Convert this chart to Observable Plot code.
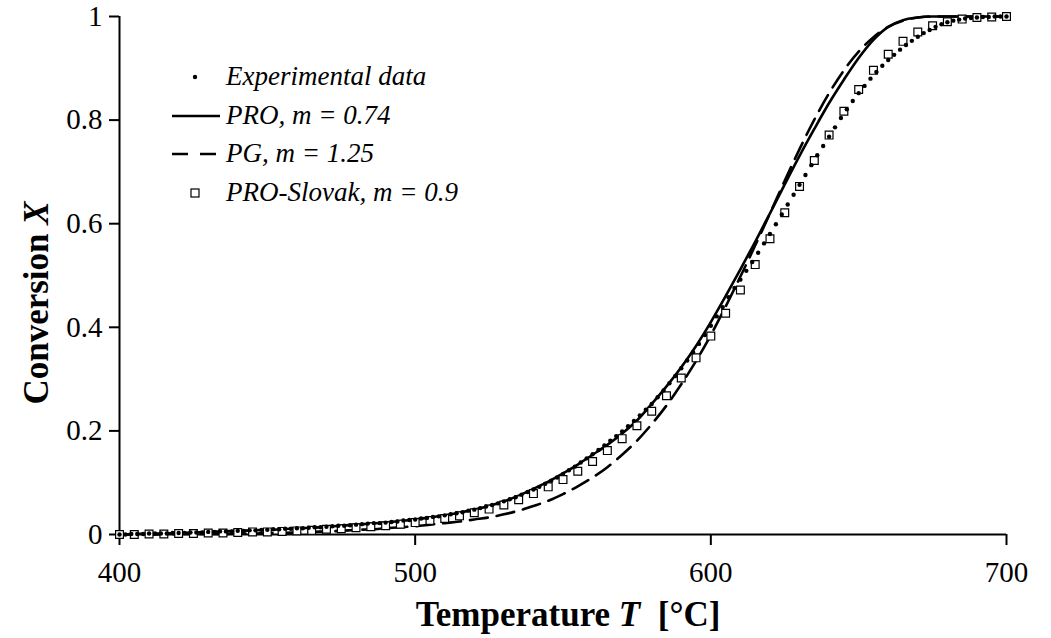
<!DOCTYPE html>
<html>
<head>
<meta charset="utf-8">
<script src="https://cdn.jsdelivr.net/npm/d3@7"></script>
<script src="https://cdn.jsdelivr.net/npm/@observablehq/plot@0.6"></script>
<style>
  html, body { margin: 0; padding: 0; background: #fff; }
  #wrap { position: relative; width: 1051px; height: 638px; }
  #overlay { position: absolute; left: 0; top: 0; pointer-events: none; }
</style>
</head>
<body>
<div id="wrap"></div>
<script>
// ---- Data ----
// Experimental data: conversion X every 2 °C from 400 °C
const expStart = 400, expStep = 2;
const expX = [
  0.000,0.000,0.001,0.001,0.001,0.002,0.002,0.002,0.002,0.003,
  0.003,0.003,0.004,0.004,0.004,0.005,0.005,0.006,0.006,0.006,
  0.007,0.007,0.008,0.008,0.009,0.009,0.010,0.010,0.011,0.011,
  0.012,0.012,0.013,0.014,0.014,0.015,0.016,0.017,0.017,0.018,
  0.019,0.020,0.021,0.022,0.022,0.023,0.024,0.025,0.027,0.028,
  0.029,0.031,0.032,0.034,0.035,0.037,0.039,0.041,0.043,0.046,
  0.048,0.051,0.054,0.057,0.060,0.064,0.068,0.072,0.077,0.082,
  0.087,0.092,0.098,0.104,0.110,0.117,0.124,0.131,0.139,0.147,
  0.155,0.163,0.172,0.181,0.190,0.199,0.209,0.219,0.230,0.241,
  0.252,0.265,0.278,0.292,0.306,0.321,0.336,0.352,0.368,0.385,
  0.403,0.421,0.439,0.458,0.476,0.492,0.509,0.526,0.544,0.562,
  0.580,0.599,0.618,0.637,0.656,0.675,0.694,0.713,0.732,0.750,
  0.768,0.786,0.804,0.821,0.837,0.852,0.866,0.880,0.893,0.905,
  0.916,0.926,0.936,0.945,0.953,0.961,0.968,0.974,0.980,0.985,
  0.989,0.992,0.994,0.996,0.997,0.998,0.999,0.999,1.000,1.000,
  1.000
];

// Model curves: conversion X every 5 °C from 400 °C
const modelStart = 400, modelStep = 5;
const proX = [
  0.000,0.001,0.002,0.002,0.003,0.004,0.005,0.006,0.007,0.008,
  0.009,0.010,0.012,0.013,0.015,0.017,0.019,0.021,0.023,0.026,
  0.029,0.033,0.037,0.042,0.048,0.055,0.064,0.075,0.088,0.102,
  0.118,0.135,0.154,0.173,0.195,0.220,0.252,0.286,0.323,0.364,
  0.410,0.460,0.512,0.565,0.620,0.676,0.731,0.783,0.833,0.878,
  0.920,0.955,0.980,0.993,0.998,1.000,1.000,1.000,1.000,1.000,1.000
];
const pgX = [
  0.000,0.000,0.000,0.000,0.001,0.001,0.001,0.001,0.002,0.002,
  0.003,0.003,0.004,0.005,0.006,0.007,0.009,0.010,0.012,0.014,
  0.016,0.019,0.022,0.025,0.029,0.033,0.039,0.046,0.055,0.065,
  0.078,0.093,0.110,0.130,0.154,0.181,0.213,0.249,0.290,0.335,
  0.385,0.440,0.498,0.558,0.620,0.683,0.744,0.801,0.852,0.896,
  0.932,0.960,0.980,0.992,0.998,1.000,1.000,1.000,1.000,1.000,1.000
];
const slovakX = [
  0.000,0.000,0.001,0.001,0.002,0.002,0.003,0.003,0.004,0.005,
  0.005,0.006,0.007,0.008,0.010,0.011,0.013,0.015,0.017,0.020,
  0.023,0.027,0.031,0.036,0.042,0.049,0.057,0.067,0.079,0.092,
  0.106,0.122,0.141,0.162,0.185,0.210,0.238,0.268,0.302,0.341,
  0.383,0.427,0.472,0.521,0.571,0.621,0.672,0.722,0.771,0.817,
  0.859,0.896,0.927,0.952,0.970,0.982,0.990,0.995,0.998,0.999,1.000
];

const xTicks = [400, 500, 600, 700];
const yTicks = [0, 0.2, 0.4, 0.6, 0.8, 1];
const legendLabels = ["Experimental data", "PRO, m = 0.74", "PG, m = 1.25", "PRO-Slovak, m = 0.9"];

// ---- Build tables ----
const expData = expX.map((v, i) => ({T: expStart + i * expStep, X: v}));
const proData = proX.map((v, i) => ({T: modelStart + i * modelStep, X: v}));
const pgData = pgX.map((v, i) => ({T: modelStart + i * modelStep, X: v}));
const slovakData = slovakX.map((v, i) => ({T: modelStart + i * modelStep, X: v}));

const serif = '"Liberation Serif", "Times New Roman", Times, serif';

const chart = Plot.plot({
  width: 1051,
  height: 638,
  marginLeft: 119,
  marginRight: 45,
  marginTop: 16,
  marginBottom: 104,
  style: {fontFamily: serif, fontSize: "29px", color: "#000", background: "#fff", overflow: "visible"},
  x: {domain: [400, 700]},
  y: {domain: [0, 1]},
  marks: [
    Plot.axisX({ticks: xTicks, tickSize: 11, tickPadding: 16, tickFormat: d => String(d), label: null, strokeWidth: 2, fontSize: 29}),
    Plot.axisY({ticks: yTicks, tickSize: 10, tickPadding: 7, tickFormat: d => String(d), label: null, strokeWidth: 2, fontSize: 29}),
    Plot.ruleX([400], {stroke: "#000", strokeWidth: 2}),
    Plot.ruleY([0], {stroke: "#000", strokeWidth: 2}),
    Plot.line(pgData, {x: "T", y: "X", stroke: "#000", strokeWidth: 2.6, strokeDasharray: "18,9", curve: "monotone-x"}),
    Plot.line(proData, {x: "T", y: "X", stroke: "#000", strokeWidth: 2.6, curve: "monotone-x"}),
    Plot.dot(slovakData, {x: "T", y: "X", symbol: "square", r: 4.4, stroke: "#000", fill: "#fff", strokeWidth: 1.2}),
    Plot.dot(expData, {x: "T", y: "X", r: 2.2, fill: "#000", stroke: "none"})
  ]
});

const wrap = document.getElementById("wrap");
wrap.appendChild(chart);

// ---- Overlay: axis titles and legend ----
const ns = "http://www.w3.org/2000/svg";
const ov = document.createElementNS(ns, "svg");
ov.setAttribute("id", "overlay");
ov.setAttribute("width", 1051);
ov.setAttribute("height", 638);
ov.style.fontFamily = serif;
wrap.appendChild(ov);

function el(tag, attrs, parent) {
  const e = document.createElementNS(ns, tag);
  for (const k in attrs) e.setAttribute(k, attrs[k]);
  (parent || ov).appendChild(e);
  return e;
}

// X axis title
const xt = el("text", {x: 568, y: 626, "text-anchor": "middle", "font-size": 35, "font-weight": "bold", fill: "#000"});
xt.appendChild(document.createTextNode("Temperature "));
const xti = el("tspan", {"font-style": "italic"}, xt); xti.textContent = "T";
xt.appendChild(document.createTextNode("\u00A0\u00A0[°C]"));

// Y axis title
const yt = el("text", {transform: "translate(48,303) rotate(-90)", "text-anchor": "middle", "font-size": 35, "font-weight": "bold", fill: "#000"});
yt.appendChild(document.createTextNode("Conversion "));
const yti = el("tspan", {"font-style": "italic"}, yt); yti.textContent = "X";

// Legend
const baselines = [85, 124, 162, 201];
const tx = 226;
legendLabels.forEach((lab, i) => {
  const t = el("text", {x: tx, y: baselines[i], "font-size": 27, "font-style": "italic", fill: "#000"});
  t.textContent = lab;
});
const sy = baselines.map(b => b - 8);
el("circle", {cx: 195, cy: sy[0], r: 2.2, fill: "#000"});
el("line", {x1: 172, x2: 220, y1: sy[1], y2: sy[1], stroke: "#000", "stroke-width": 2.6});
el("line", {x1: 172, x2: 220, y1: sy[2], y2: sy[2], stroke: "#000", "stroke-width": 2.6, "stroke-dasharray": "16,12"});
el("rect", {x: 191, y: sy[3] - 4, width: 8, height: 8, fill: "#fff", stroke: "#000", "stroke-width": 1.2});
</script>
</body>
</html>
